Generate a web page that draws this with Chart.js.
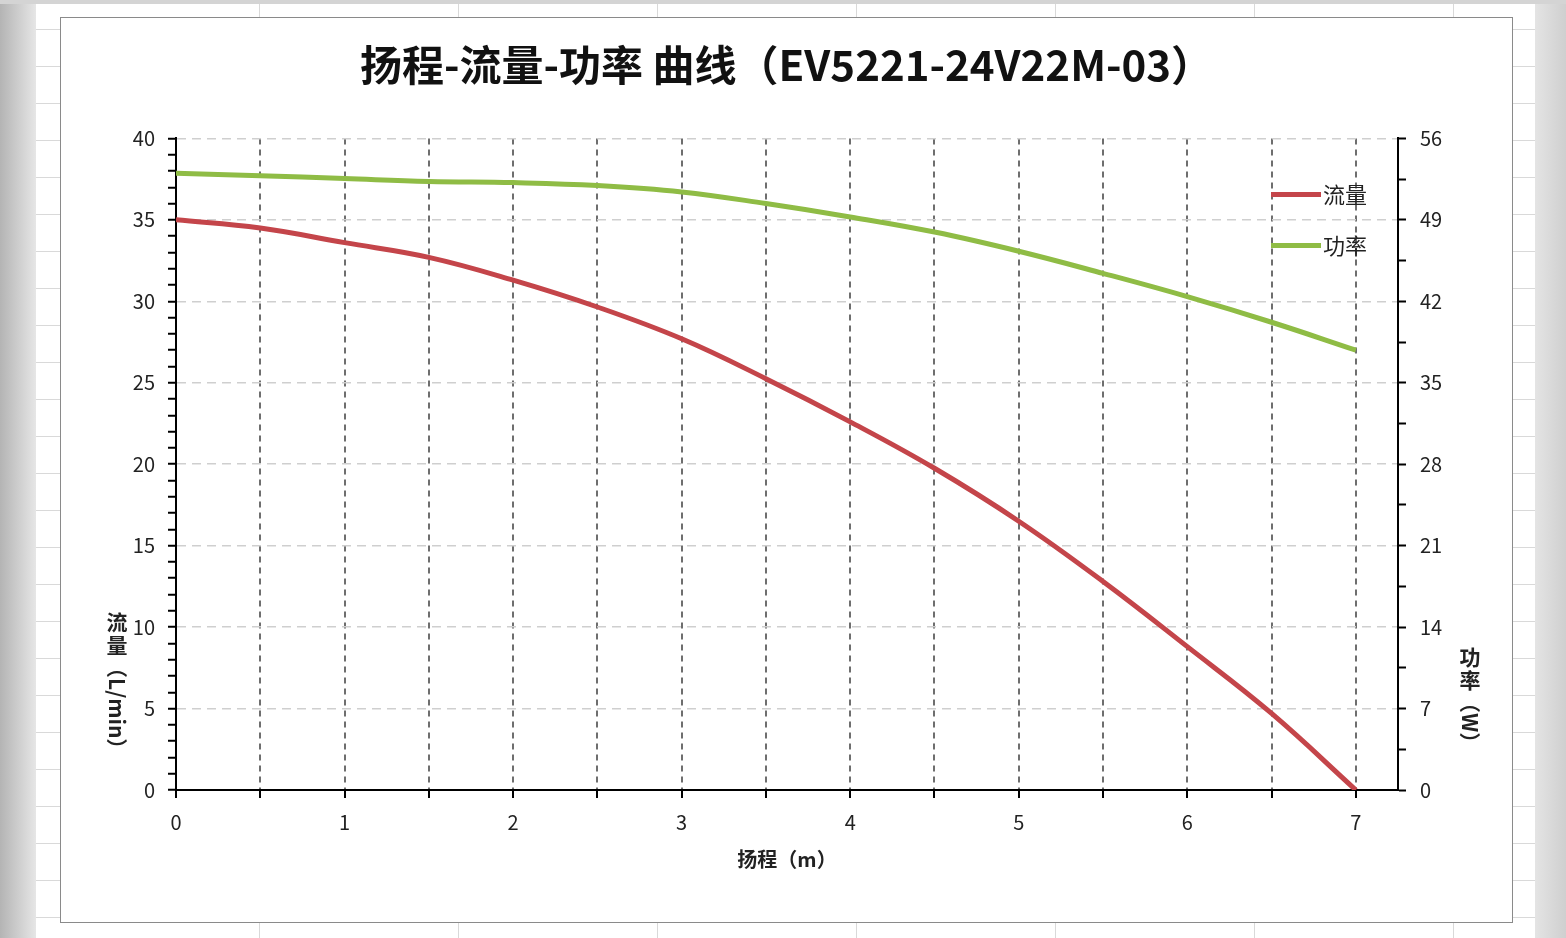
<!DOCTYPE html>
<html>
<head>
<meta charset="utf-8">
<script src="https://cdn.jsdelivr.net/npm/chart.js@4.4.0/dist/chart.umd.min.js"></script>
<style>
  html, body { margin: 0; padding: 0; }
  body {
    width: 1566px; height: 938px; overflow: hidden; position: relative;
    background-color: #fff;
    background-image:
      repeating-linear-gradient(to bottom, transparent 0 36px, #d9d9d9 36px 37px),
      repeating-linear-gradient(to right, transparent 0 198px, #d9d9d9 198px 199px);
    background-position: 0 -7px, 61px 0;
  }
  .edge-left { position: absolute; left: 0; top: 0; width: 36px; height: 938px;
    background: linear-gradient(to right, #b4b4b4, #d2d2d2 60%, #e6e6e6); }
  .edge-right { position: absolute; left: 1535px; top: 0; width: 31px; height: 938px;
    background: linear-gradient(to right, #e4e4e4, #cfcfcf); }
  .edge-top { position: absolute; left: 0; top: 0; width: 1566px; height: 4px; background: #d4d4d4; }
  .box { position: absolute; left: 60px; top: 17px; width: 1451px; height: 904px;
    border: 1px solid #8a8a8a; background: #fff; }
</style>
</head>
<body>
<div class="edge-left"></div>
<div class="edge-right"></div>
<div class="edge-top"></div>
<div class="box"><canvas id="myChart" width="1451" height="904"></canvas></div>
<script>
const HEAD = [0, 0.5, 1, 1.5, 2, 2.5, 3, 3.5, 4, 4.5, 5, 5.5, 6, 6.5, 7];
const FLOW = [35.0, 34.5, 33.6, 32.7, 31.3, 29.65, 27.7, 25.25, 22.6, 19.75, 16.5, 12.8, 8.8, 4.7, 0];
const POWER = [53.0, 52.8, 52.55, 52.3, 52.2, 51.95, 51.4, 50.4, 49.25, 47.95, 46.3, 44.4, 42.4, 40.2, 37.8];

const TITLE = '扬程-流量-功率 曲线（EV5221-24V22M-03）';
const X_TITLE = '扬程（m）';
const FONT = "'Noto Sans CJK SC', 'Noto Sans', sans-serif";

const toPoints = (ys) => HEAD.map((x, i) => ({ x: x, y: ys[i] }));

// legend drawn inside the plot, top right
const innerLegend = {
  id: 'innerLegend',
  afterDraw(chart) {
    const { ctx, chartArea } = chart;
    const x0 = chartArea.right - 127;
    chart.data.datasets.forEach((ds, i) => {
      const y = chartArea.top + 56 + i * 51;
      ctx.save();
      ctx.strokeStyle = ds.borderColor;
      ctx.lineWidth = 5;
      ctx.beginPath();
      ctx.moveTo(x0, y);
      ctx.lineTo(x0 + 50, y);
      ctx.stroke();
      ctx.fillStyle = '#222';
      ctx.font = '22px ' + FONT;
      ctx.textAlign = 'left';
      ctx.textBaseline = 'middle';
      ctx.fillText(ds.label, x0 + 52, y);
      ctx.restore();
    });
  }
};

// excel style stacked axis titles
function drawStacked(ctx, chars, rest, x, y) {
  ctx.save();
  ctx.fillStyle = '#222';
  ctx.font = 'bold 21px ' + FONT;
  ctx.textAlign = 'center';
  ctx.textBaseline = 'middle';
  chars.forEach((c) => { ctx.fillText(c, x, y); y += 23; });
  ctx.translate(x, y - 11);
  ctx.rotate(Math.PI / 2);
  ctx.textAlign = 'left';
  ctx.fillText(rest, 0, 0);
  ctx.restore();
}

const axisTitles = {
  id: 'axisTitles',
  afterDraw(chart) {
    const { ctx, chartArea } = chart;
    drawStacked(ctx, ['流', '量'], '（L/min）', chartArea.left - 59, chartArea.bottom - 168);
    drawStacked(ctx, ['功', '率'], '（W）', chartArea.right + 72, chartArea.bottom - 133);
  }
};

const config = {
  type: 'line',
  data: {
    datasets: [
      {
        label: '流量',
        data: toPoints(FLOW),
        yAxisID: 'y',
        borderColor: '#c4454a',
        borderWidth: 5,
        pointRadius: 0,
        tension: 0.4,
      },
      {
        label: '功率',
        data: toPoints(POWER),
        yAxisID: 'y2',
        borderColor: '#8fbc45',
        borderWidth: 5,
        pointRadius: 0,
        tension: 0.4,
      },
    ],
  },
  options: {
    responsive: false,
    animation: false,
    devicePixelRatio: 1,
    layout: { padding: 0 },
    plugins: {
      legend: { display: false },
      tooltip: { enabled: false },
      title: {
        display: true,
        text: TITLE,
        color: '#111',
        font: { family: FONT, size: 42, weight: 'bold', lineHeight: 1.2 },
        padding: { top: 22, bottom: 48 },
      },
    },
    scales: {
      x: {
        type: 'linear',
        min: 0,
        max: 7.25,
        afterFit: (s) => { s.height = 132; },
        ticks: {
          stepSize: 0.5,
          includeBounds: false,
          autoSkip: false,
          maxRotation: 0,
          padding: 12,
          color: '#222',
          font: { family: FONT, size: 20 },
          callback: (v) => (Number.isInteger(v) ? v : ''),
        },
        grid: {
          color: (c) => (c.tick && c.tick.value > 0 ? '#6e6e6e' : 'transparent'),
          lineWidth: 2,
          tickColor: '#000',
          tickLength: 8,
          tickWidth: 2,
        },
        border: { color: '#000', width: 2, dash: [6, 5] },
        title: {
          display: true,
          text: X_TITLE,
          color: '#222',
          font: { family: FONT, size: 20, weight: 'bold' },
          padding: { top: 0, bottom: 51 },
        },
      },
      y: {
        position: 'left',
        min: 0,
        max: 40,
        afterFit: (s) => { s.width = 115; },
        ticks: {
          stepSize: 1,
          autoSkip: false,
          padding: 13,
          color: '#222',
          font: { family: FONT, size: 20 },
          callback: (v) => (v % 5 === 0 ? v : ''),
        },
        grid: {
          color: (c) => (c.tick && c.tick.value % 5 === 0 ? '#cfcfcf' : 'transparent'),
          lineWidth: 1.5,
          tickColor: '#000',
          tickLength: 8,
          tickWidth: 2,
        },
        border: { color: '#000', width: 2, dash: [9, 6] },
      },
      y2: {
        position: 'right',
        min: 0,
        max: 56,
        afterFit: (s) => { s.width = 114; },
        ticks: {
          stepSize: 3.5,
          autoSkip: false,
          padding: 14,
          color: '#222',
          font: { family: FONT, size: 20 },
          callback: (v) => (v % 7 === 0 ? v : ''),
        },
        grid: {
          drawOnChartArea: false,
          tickColor: '#000',
          tickLength: 8,
          tickWidth: 2,
        },
        border: { color: '#000', width: 2 },
      },
    },
  },
  plugins: [innerLegend, axisTitles],
};

new Chart(document.getElementById('myChart'), config);
</script>
</body>
</html>
